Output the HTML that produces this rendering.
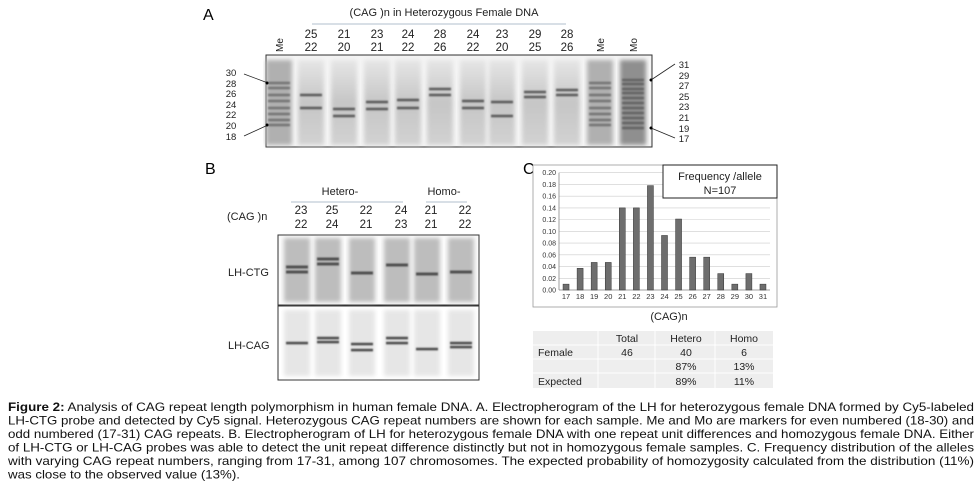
<!DOCTYPE html>
<html><head><meta charset="utf-8">
<style>
html,body{margin:0;padding:0;background:#fff;}
svg{display:block;font-family:"Liberation Sans",Arial,sans-serif;}
</style></head>
<body>
<svg id="fig" width="979" height="495" viewBox="0 0 979 495" xmlns="http://www.w3.org/2000/svg">
<defs>
  <filter id="blur1" x="-20%" y="-200%" width="140%" height="500%"><feGaussianBlur stdDeviation="0.9"/></filter>
  <filter id="blur2"><feGaussianBlur stdDeviation="2"/></filter>
  <linearGradient id="laneGrad" x1="0" y1="0" x2="0" y2="1">
    <stop offset="0" stop-color="#e6e6e6"/><stop offset="0.5" stop-color="#c6c6c6"/><stop offset="1" stop-color="#d2d2d2"/>
  </linearGradient>
</defs>

<!-- Panel A -->
<g>
  <text x="203" y="20" font-size="16">A</text>
  <text x="444" y="16" font-size="11" text-anchor="middle" fill="#222">(CAG )n  in Heterozygous Female DNA</text>
  <line x1="312" y1="24" x2="566" y2="24" stroke="#9ab" stroke-width="0.8"/>
  <g id="laneLabelsA" font-size="11.5" fill="#222" text-anchor="middle"></g>
  <rect x="266" y="55" width="386" height="92" fill="#eeeeee" stroke="#333" stroke-width="1"/>
  <g id="gelA"></g>
  <g font-size="9.5" fill="#222" text-anchor="middle">
    <text x="231" y="76">30</text><text x="231" y="87">28</text><text x="231" y="97">26</text><text x="231" y="108">24</text><text x="231" y="118">22</text><text x="231" y="129">20</text><text x="231" y="140">18</text>
  </g>
  <line x1="244" y1="74" x2="268" y2="83" stroke="#222" stroke-width="0.8"/>
  <circle cx="267" cy="83" r="1.5" fill="#000"/>
  <line x1="244" y1="136" x2="268" y2="125" stroke="#222" stroke-width="0.8"/>
  <circle cx="267" cy="125" r="1.5" fill="#000"/>
  <g font-size="9.5" fill="#222" text-anchor="middle">
    <text x="684" y="68">31</text><text x="684" y="79">29</text><text x="684" y="89">27</text><text x="684" y="100">25</text><text x="684" y="110">23</text><text x="684" y="121">21</text><text x="684" y="132">19</text><text x="684" y="142">17</text>
  </g>
  <line x1="675" y1="64" x2="651" y2="80" stroke="#222" stroke-width="0.8"/>
  <circle cx="651" cy="80" r="1.5" fill="#000"/>
  <line x1="675" y1="138" x2="651" y2="128" stroke="#222" stroke-width="0.8"/>
  <circle cx="651" cy="128" r="1.5" fill="#000"/>
</g>

<!-- Panel B -->
<g>
  <text x="205" y="174" font-size="16">B</text>
  <text x="340" y="195" font-size="11" text-anchor="middle" fill="#222">Hetero-</text>
  <line x1="291" y1="202" x2="403" y2="202" stroke="#9ab" stroke-width="0.8"/>
  <text x="444" y="195" font-size="11" text-anchor="middle" fill="#222">Homo-</text>
  <line x1="426" y1="202" x2="467" y2="202" stroke="#9ab" stroke-width="0.8"/>
  <text x="227" y="220" font-size="11" fill="#222">(CAG )n</text>
  <g id="laneLabelsB" font-size="11.5" fill="#222" text-anchor="middle"></g>
  <rect x="278" y="235" width="201" height="70" fill="#fafafa" stroke="#333" stroke-width="1"/>
  <rect x="278" y="306" width="201" height="74" fill="#fff" stroke="#333" stroke-width="1"/>
  <g id="gelB"></g>
  <text x="228" y="276" font-size="11" fill="#222">LH-CTG</text>
  <text x="228" y="349" font-size="11" fill="#222">LH-CAG</text>
</g>

<!-- Panel C -->
<g>
  <text x="523" y="174" font-size="16">C</text>
  <rect x="533" y="165" width="244" height="142" fill="#fff" stroke="#999" stroke-width="0.8"/>
  <g id="chartC"></g>
  <rect x="663" y="165" width="114" height="33" fill="#fff" stroke="#222" stroke-width="1"/>
  <text x="720" y="180" font-size="11" text-anchor="middle" fill="#222">Frequency /allele</text>
  <text x="720" y="194" font-size="11" text-anchor="middle" fill="#222">N=107</text>
  <text x="669" y="320" font-size="11" text-anchor="middle" fill="#222">(CAG)n</text>
  <g font-size="10.5" fill="#222">
    <rect x="533" y="331" width="240" height="57" fill="#eeeeee"/>
    <line x1="533" y1="345" x2="773" y2="345" stroke="#fff" stroke-width="1"/>
    <line x1="533" y1="359" x2="773" y2="359" stroke="#fff" stroke-width="1"/>
    <line x1="533" y1="373" x2="773" y2="373" stroke="#fff" stroke-width="1"/>
    <line x1="598" y1="331" x2="598" y2="388" stroke="#fff"/>
    <line x1="655" y1="331" x2="655" y2="388" stroke="#fff"/>
    <line x1="715" y1="331" x2="715" y2="388" stroke="#fff"/>
    <text x="627" y="342" text-anchor="middle">Total</text>
    <text x="686" y="342" text-anchor="middle">Hetero</text>
    <text x="744" y="342" text-anchor="middle">Homo</text>
    <text x="538" y="356">Female</text>
    <text x="627" y="356" text-anchor="middle">46</text>
    <text x="686" y="356" text-anchor="middle">40</text>
    <text x="744" y="356" text-anchor="middle">6</text>
    <text x="686" y="370" text-anchor="middle">87%</text>
    <text x="744" y="370" text-anchor="middle">13%</text>
    <text x="538" y="385">Expected</text>
    <text x="686" y="385" text-anchor="middle">89%</text>
    <text x="744" y="385" text-anchor="middle">11%</text>
  </g>
</g>

<!-- Caption -->
<g font-size="12" fill="#111">
  <text x="8" y="411" textLength="966" lengthAdjust="spacingAndGlyphs"><tspan font-weight="bold">Figure 2:</tspan> Analysis of CAG repeat length polymorphism in human female DNA. A. Electropherogram of the LH for heterozygous female DNA formed by Cy5-labeled</text>
  <text x="8" y="424.5" textLength="966" lengthAdjust="spacingAndGlyphs">LH-CTG probe and detected by Cy5 signal. Heterozygous CAG repeat numbers are shown for each sample. Me and Mo are markers for even numbered (18-30) and</text>
  <text x="8" y="438" textLength="966" lengthAdjust="spacingAndGlyphs">odd numbered (17-31) CAG repeats. B. Electropherogram of LH for heterozygous female DNA with one repeat unit differences and homozygous female DNA. Either</text>
  <text x="8" y="451.5" textLength="966" lengthAdjust="spacingAndGlyphs">of LH-CTG or LH-CAG probes was able to detect the unit repeat difference distinctly but not in homozygous female samples. C. Frequency distribution of the alleles</text>
  <text x="8" y="465" textLength="966" lengthAdjust="spacingAndGlyphs">with varying CAG repeat numbers, ranging from 17-31, among 107 chromosomes. The expected probability of homozygosity calculated from the distribution (11%)</text>
  <text x="8" y="478.5" textLength="232" lengthAdjust="spacingAndGlyphs">was close to the observed value (13%).</text>
</g>
</svg>

<script>
// ---- Chart C data ----
const categories = ["17","18","19","20","21","22","23","24","25","26","27","28","29","30","31"];
const frequencies = [0.01,0.037,0.047,0.047,0.14,0.14,0.178,0.093,0.121,0.056,0.056,0.028,0.01,0.028,0.01];
const yTicks = ["0.00","0.02","0.04","0.06","0.08","0.10","0.12","0.14","0.16","0.18","0.20"];

const NS = "http://www.w3.org/2000/svg";
function mk(tag, attrs, parent){ const e=document.createElementNS(NS,tag); for(const k in attrs) e.setAttribute(k,attrs[k]); if(parent) parent.appendChild(e); return e; }

const plotL=559, plotR=770, plotT=172.7, plotB=290, yMax=0.20;
function yScale(v){ return plotB - (v / yMax) * (plotB - plotT); }
function xScale(i){ const step=(plotR-plotL)/categories.length; return plotL + step*(i+0.5); }

const chart=document.getElementById('chartC');
yTicks.forEach(function(t){
  const y=yScale(parseFloat(t));
  const gl=mk('line',{x1:plotL,y1:y,x2:plotR,y2:y,stroke:'#ccc','stroke-width':0.6},chart);
  
  
  const tx=mk('text',{x:plotL-3,y:y+2.5,'font-size':7,'text-anchor':'end',fill:'#333'},chart);
  tx.textContent=t;
  
  
});
mk('line',{x1:plotL,y1:plotT,x2:plotL,y2:plotB,stroke:'#888','stroke-width':0.8},chart);
mk('line',{x1:plotL,y1:plotB,x2:plotR,y2:plotB,stroke:'#888','stroke-width':0.8},chart);
categories.forEach(function(c,i){
  const x=xScale(i), y=yScale(frequencies[i]);
  const b=mk('rect',{x:x-3,y:y,width:6,height:plotB-y,fill:'#6e6e6e',stroke:'#333','stroke-width':0.5},chart);
  
  
  const tl=mk('text',{x:x,y:plotB+9,'font-size':7.5,'text-anchor':'middle',fill:'#333'},chart);
  tl.textContent=c;
  
  
});

// ---- Gel A ----
const laneA=[
 {x:279,t:"Me",bands:[83,88,95,101,108,114,120,125],lad:1},
 {x:311,t:"25|22",bands:[95,108]},
 {x:344,t:"21|20",bands:[109,116]},
 {x:377,t:"23|21",bands:[102,109]},
 {x:408,t:"24|22",bands:[100,108]},
 {x:440,t:"28|26",bands:[89,95]},
 {x:473,t:"24|22",bands:[101,108]},
 {x:502,t:"23|20",bands:[102,116]},
 {x:535,t:"29|25",bands:[92,97]},
 {x:567,t:"28|26",bands:[90,95]},
 {x:600,t:"Me",bands:[83,88,95,101,108,114,120,125],lad:1},
 {x:633,t:"Mo",bands:[80,84,89,93,98,103,108,113,118,123,128],lad:2}
];
const gA=document.getElementById('gelA'), lA=document.getElementById('laneLabelsA');
mk('rect',{x:267,y:56,width:384,height:90,fill:'#f4f4f4'},gA);
laneA.forEach(function(L){
  const w=26;
  const fillLane=L.lad===2?'#8f8f8f':(L.lad?'#b0b0b0':'url(#laneGrad)');
  mk('rect',{x:L.x-w/2,y:60,width:w,height:85,fill:fillLane,filter:'url(#blur2)'},gA);
  L.bands.forEach(function(y){
    mk('rect',{x:L.x-w/2+2,y:y-1.3,width:w-4,height:2.6,fill:'#333',opacity:L.lad?0.45:0.7,filter:'url(#blur1)'},gA);
  });
  if(L.t.indexOf('|')>=0){
    const p=L.t.split('|');
    mk('text',{x:L.x,y:38},lA).textContent=p[0];
    mk('text',{x:L.x,y:51},lA).textContent=p[1];
  } else {
    const t=mk('text',{x:0,y:0,transform:'translate('+(L.x+4)+',45) rotate(-90)','font-size':10,'text-anchor':'middle'},lA);
    t.textContent=L.t;
  }
});

// ---- Gel B ----
const laneB=[
 {x:297,t:["23","22"],top:[267,272],bot:[343]},
 {x:328,t:["25","24"],top:[259,264],bot:[338,342]},
 {x:362,t:["22","21"],top:[273],bot:[344,350]},
 {x:397,t:["24","23"],top:[265],bot:[338,343]},
 {x:427,t:["21","21"],top:[274],bot:[349]},
 {x:461,t:["22","22"],top:[272],bot:[343,347]}
];
const gB=document.getElementById('gelB'), lB=document.getElementById('laneLabelsB');
laneB.forEach(function(L){
  const w=26;
  mk('rect',{x:L.x-w/2,y:238,width:w,height:64,fill:'#bdbdbd',filter:'url(#blur2)'},gB);
  mk('rect',{x:L.x-w/2,y:310,width:w,height:66,fill:'#e6e6e6',filter:'url(#blur2)'},gB);
  L.top.forEach(function(y){ mk('rect',{x:L.x-w/2+2,y:y-1.5,width:w-4,height:3,fill:'#222',opacity:0.7,filter:'url(#blur1)'},gB); });
  L.bot.forEach(function(y){ mk('rect',{x:L.x-w/2+2,y:y-1.2,width:w-4,height:2.5,fill:'#222',opacity:0.8,filter:'url(#blur1)'},gB); });
  mk('text',{x:L.x+4,y:214},lB).textContent=L.t[0];
  mk('text',{x:L.x+4,y:228},lB).textContent=L.t[1];
});
</script>
</body></html>
